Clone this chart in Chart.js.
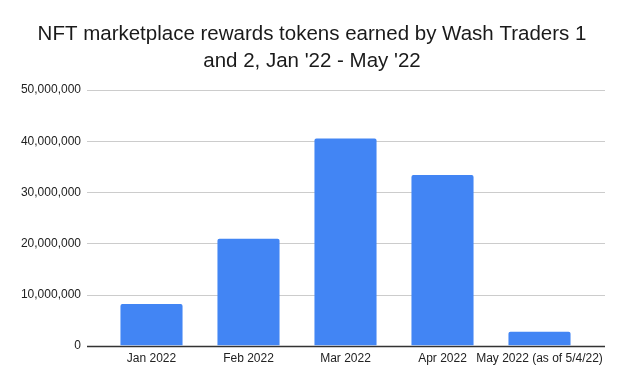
<!DOCTYPE html>
<html lang="en">
<head>
    <meta charset="UTF-8">
    <title>NFT marketplace rewards tokens</title>
    <script src="https://cdn.jsdelivr.net/npm/chart.js"></script>
    <style>
        html, body { margin: 0; padding: 0; background: #fff; }
        #wrap { width: 624px; height: 385px; }
    </style>
</head>
<body>
    <div id="wrap"><canvas id="grafico"></canvas></div>

    <script>
        const meses = ['Jan 2022', 'Feb 2022', 'Mar 2022', 'Apr 2022', 'May 2022 (as of 5/4/22)'];
        const tokens = [8130000, 20900000, 40550000, 33400000, 2700000];
        const titulo = ['NFT marketplace rewards tokens earned by Wash Traders 1', "and 2, Jan '22 - May '22"];

        // gridlines wider than the bar area, like the original sheet chart
        const lineasGrid = {
            id: 'lineasGrid',
            beforeDatasetsDraw(chart) {
                const { ctx, chartArea, scales } = chart;
                const y = scales.y;
                ctx.save();
                y.ticks.forEach(t => {
                    const py = Math.round(y.getPixelForValue(t.value)) + 0.5;
                    ctx.beginPath();
                    ctx.strokeStyle = t.value === 0 ? '#333333' : '#cccccc';
                    ctx.lineWidth = t.value === 0 ? 1.5 : 1;
                    ctx.moveTo(chartArea.left - 16, py);
                    ctx.lineTo(chartArea.right + 17, py);
                    ctx.stroke();
                });
                ctx.restore();
            }
        };

        const fuente = "Arial, 'Liberation Sans', sans-serif";

        new Chart(document.getElementById('grafico'), {
            type: 'bar',
            data: {
                labels: meses,
                datasets: [{
                    data: tokens,
                    backgroundColor: '#4285f4',
                    borderRadius: 2,
                    borderSkipped: 'bottom',
                    categoryPercentage: 1,
                    barPercentage: 0.64
                }]
            },
            options: {
                responsive: true,
                maintainAspectRatio: false,
                animation: false,
                // same padding both sides so the title sits centred on the page
                layout: { padding: { left: 19, right: 19, top: 4, bottom: 13 } },
                plugins: {
                    legend: { display: false },
                    tooltip: { enabled: false },
                    title: {
                        display: true,
                        text: titulo,
                        color: '#1a1a1a',
                        font: { family: fuente, size: 20.5, weight: 'normal', lineHeight: 1.32 },
                        padding: { top: 17, bottom: 15 }
                    }
                },
                scales: {
                    x: {
                        grid: { display: false, drawTicks: false },
                        border: { display: false },
                        ticks: {
                            color: '#222222',
                            font: { family: fuente, size: 12 },
                            maxRotation: 0,
                            autoSkip: false,
                            padding: 6
                        }
                    },
                    y: {
                        min: 0,
                        max: 50000000,
                        grid: { display: false, drawTicks: false },
                        border: { display: false },
                        afterFit(scale) { scale.width = 84; },
                        ticks: {
                            stepSize: 10000000,
                            color: '#222222',
                            font: { family: fuente, size: 12 },
                            padding: 22,
                            callback: v => v.toLocaleString('en-US')
                        }
                    },
                    // empty right axis, only used as a spacer
                    derecha: {
                        type: 'linear',
                        position: 'right',
                        grid: { display: false, drawTicks: false },
                        border: { display: false },
                        ticks: { display: false },
                        afterFit(scale) { scale.width = 17; }
                    }
                }
            },
            plugins: [lineasGrid]
        });
    </script>
</body>
</html>
